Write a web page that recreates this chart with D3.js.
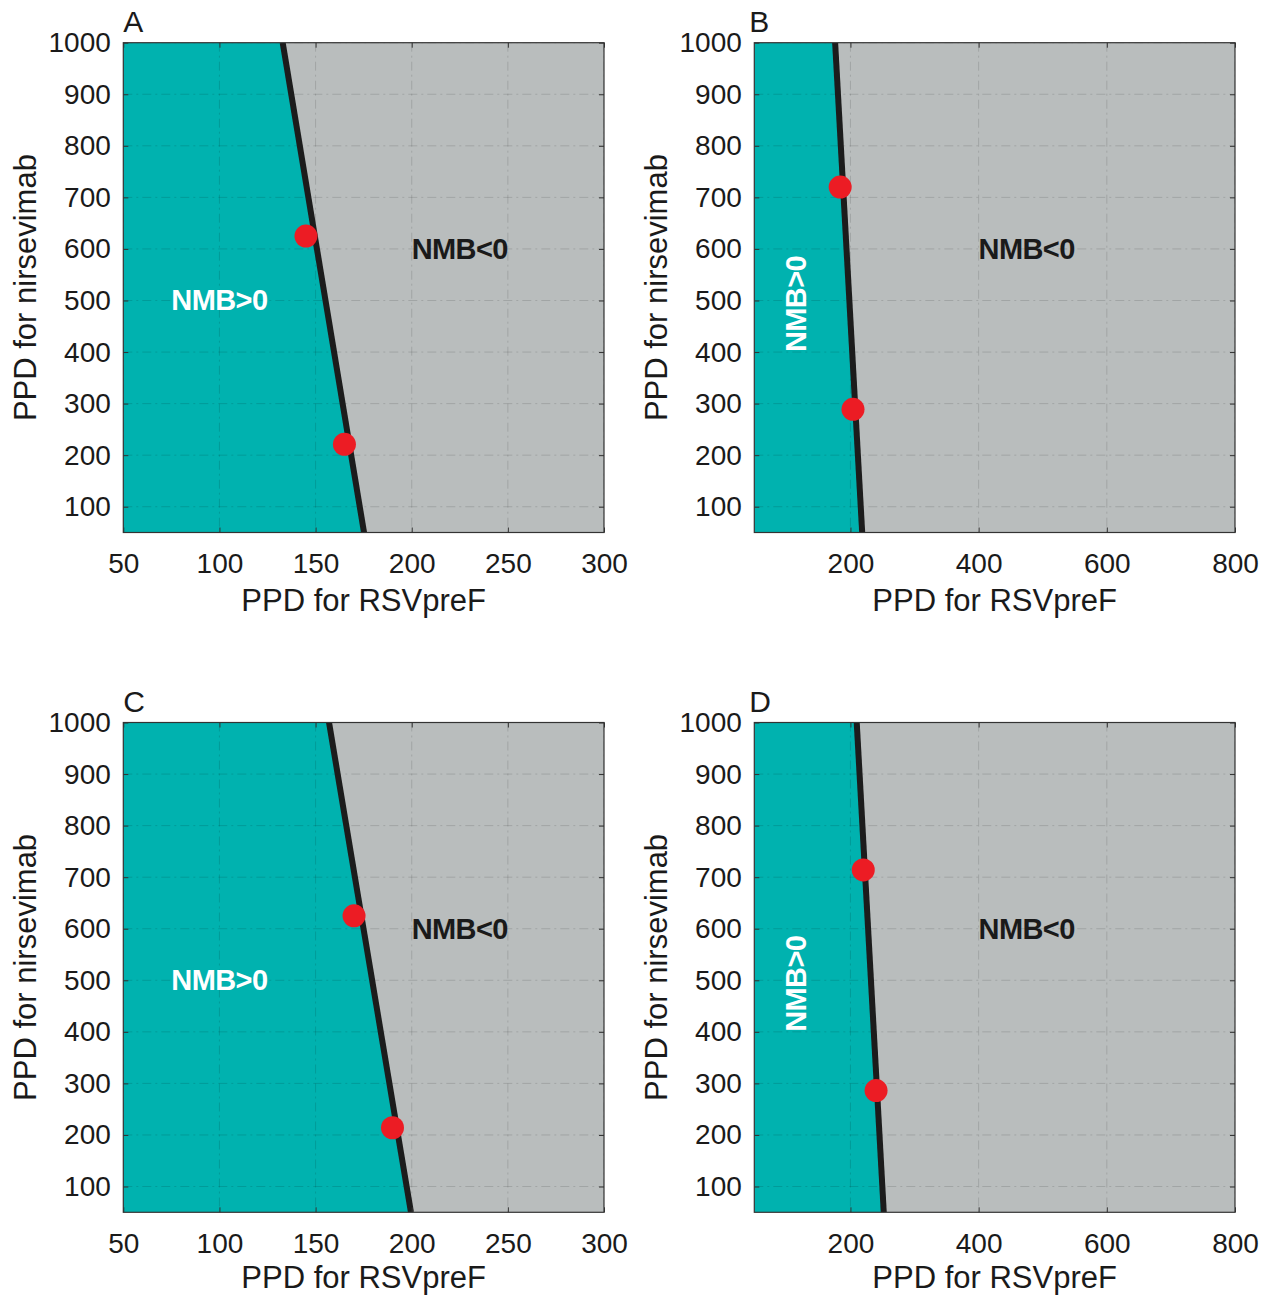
<!DOCTYPE html>
<html>
<head>
<meta charset="utf-8">
<script src="https://cdn.jsdelivr.net/npm/d3@7"></script>
<style>
  html, body { margin: 0; padding: 0; background: #fff; }
  svg { display: block; font-family: "Liberation Sans", Arial, Helvetica, sans-serif; }
</style>
</head>
<body>
<svg id="chart" width="1270" height="1296"></svg>
<script>
// ---------- data ----------
const panelLetters = ["A", "B", "C", "D"];
const xDomainsNarrow = [50, 300];
const xDomainsWide = [50, 800];
const yDomain = [50, 1000];
const xTicksNarrow = [50, 100, 150, 200, 250, 300];
const xTicksWide = [200, 400, 600, 800];
const yTicks = [100, 200, 300, 400, 500, 600, 700, 800, 900, 1000];
// threshold line (NMB = 0): [RSVpreF PPD, nirsevimab PPD] at top and bottom of plot
const thresholdA = [[132.9, 1000], [175.2, 50]];
const thresholdB = [[176.1, 1000], [218.3, 50]];
const thresholdC = [[157.0, 1000], [199.6, 50]];
const thresholdD = [[209.8, 1000], [252.0, 50]];
// red points
const pointsA = [[145, 625], [165, 221]];
const pointsB = [[184, 720], [204, 289]];
const pointsC = [[170, 625], [190, 214]];
const pointsD = [[220, 714], [240, 286]];
// region label positions (data coords)
const labelPosNarrow = { pos: [75, 500], neg: [200, 600] };
const labelPosWide = { pos: [115, 400], neg: [400, 600] };
const xLabel = "PPD for RSVpreF";
const yLabel = "PPD for nirsevimab";

// ---------- layout ----------
const panels = [
  { letter: panelLetters[0], left: 123.3, top: 42.7, xd: xDomainsNarrow, xt: xTicksNarrow, line: thresholdA, pts: pointsA, lab: labelPosNarrow, rot: false, xlOff: 79 },
  { letter: panelLetters[1], left: 754.3, top: 42.7, xd: xDomainsWide, xt: xTicksWide, line: thresholdB, pts: pointsB, lab: labelPosWide, rot: true, xlOff: 79 },
  { letter: panelLetters[2], left: 123.3, top: 722.5, xd: xDomainsNarrow, xt: xTicksNarrow, line: thresholdC, pts: pointsC, lab: labelPosNarrow, rot: false, xlOff: 76 },
  { letter: panelLetters[3], left: 754.3, top: 722.5, xd: xDomainsWide, xt: xTicksWide, line: thresholdD, pts: pointsD, lab: labelPosWide, rot: true, xlOff: 76 }
];
const W = 480.7, H = 489.8;
const teal = "rgb(0,178,175)";
const grayBg = "rgb(185,189,189)";
const svg = d3.select("#chart");

panels.forEach((p, i) => {
  const g = svg.append("g").attr("transform", `translate(${p.left},${p.top})`);
  const x = d3.scaleLinear().domain(p.xd).range([0, W]);
  const y = d3.scaleLinear().domain(yDomain).range([H, 0]);
  const clipId = "clip" + i;
  g.append("clipPath").attr("id", clipId).append("rect").attr("width", W).attr("height", H);

  const plot = g.append("g").attr("clip-path", `url(#${clipId})`);
  // gray background
  plot.append("rect").attr("width", W).attr("height", H).attr("fill", grayBg);
  // teal region left of the threshold line
  const poly = [[p.xd[0], p.line[0][1]], p.line[0], p.line[1], [p.xd[0], p.line[1][1]]];
  plot.append("path")
    .attr("d", d3.line().x(d => x(d[0])).y(d => y(d[1]))(poly) + "Z")
    .attr("fill", teal);

  // grid lines (dash-dot)
  plot.selectAll(".gx").data(p.xt).join("line")
    .attr("x1", d => x(d)).attr("x2", d => x(d)).attr("y1", 0).attr("y2", H)
    .attr("stroke", "#000").attr("stroke-opacity", 0.13).attr("stroke-width", 1)
    .attr("stroke-dasharray", "9,4,2,4");
  plot.selectAll(".gy").data(yTicks).join("line")
    .attr("y1", d => y(d)).attr("y2", d => y(d)).attr("x1", 0).attr("x2", W)
    .attr("stroke", "#000").attr("stroke-opacity", 0.13).attr("stroke-width", 1)
    .attr("stroke-dasharray", "9,4,2,4");

  // threshold line
  plot.append("path")
    .attr("d", d3.line().x(d => x(d[0])).y(d => y(d[1]))(p.line))
    .attr("stroke", "#1c1c1c").attr("stroke-width", 6).attr("fill", "none");

  // red points
  plot.selectAll(".pt").data(p.pts).join("circle")
    .attr("cx", d => x(d[0])).attr("cy", d => y(d[1])).attr("r", 11.5)
    .attr("fill", "rgb(236,28,36)");

  // region labels
  const lp = plot.append("text")
    .attr("font-weight", "bold").attr("font-size", 29).attr("fill", "#fff")
    .attr("letter-spacing", -0.6)
    .attr("dominant-baseline", "central")
    .text("NMB>0");
  if (p.rot) {
    lp.attr("transform", `translate(${x(p.lab.pos[0])},${y(p.lab.pos[1])}) rotate(-90)`);
  } else {
    lp.attr("x", x(p.lab.pos[0])).attr("y", y(p.lab.pos[1]));
  }
  plot.append("text")
    .attr("font-weight", "bold").attr("font-size", 29).attr("fill", "#1a1a1a")
    .attr("letter-spacing", -0.6)
    .attr("dominant-baseline", "central")
    .attr("x", x(p.lab.neg[0])).attr("y", y(p.lab.neg[1]))
    .text("NMB<0");

  // axes (inward ticks)
  const ax = g.append("g").attr("transform", `translate(0,${H})`)
    .call(d3.axisBottom(x).tickValues(p.xt).tickSize(-5).tickSizeOuter(0).tickPadding(20.5).tickFormat(d3.format("d")));
  const ay = g.append("g")
    .call(d3.axisLeft(y).tickValues(yTicks).tickSize(-5).tickSizeOuter(0).tickPadding(12.5).tickFormat(d3.format("d")));
  const axT = g.append("g")
    .call(d3.axisTop(x).tickValues(p.xt).tickSize(-5).tickSizeOuter(0).tickFormat(""));
  const ayR = g.append("g").attr("transform", `translate(${W},0)`)
    .call(d3.axisRight(y).tickValues(yTicks).tickSize(-5).tickSizeOuter(0).tickFormat(""));
  [ax, ay, axT, ayR].forEach(a => {
    a.select(".domain").remove();
    a.selectAll(".tick line").attr("stroke", "#333").attr("stroke-width", 1);
    a.selectAll(".tick text").attr("font-size", 28).attr("fill", "#1a1a1a")
      .attr("font-family", "'Liberation Sans', Arial, Helvetica, sans-serif");
  });
  // box
  g.append("rect").attr("width", W).attr("height", H)
    .attr("fill", "none").attr("stroke", "#333").attr("stroke-width", 1.2);

  // axis labels
  g.append("text").attr("x", W / 2).attr("y", H + p.xlOff)
    .attr("text-anchor", "middle").attr("font-size", 31).attr("fill", "#1a1a1a")
    .text(xLabel);
  g.append("text")
    .attr("transform", `translate(${-87},${H / 2}) rotate(-90)`)
    .attr("text-anchor", "middle").attr("font-size", 31).attr("fill", "#1a1a1a")
    .text(yLabel);

  // panel letter
  g.append("text").attr("x", p.letter === "A" || p.letter === "C" ? 0 : -5).attr("y", -11)
    .attr("font-size", 30).attr("fill", "#1a1a1a").text(p.letter);
});
</script>
</body>
</html>
